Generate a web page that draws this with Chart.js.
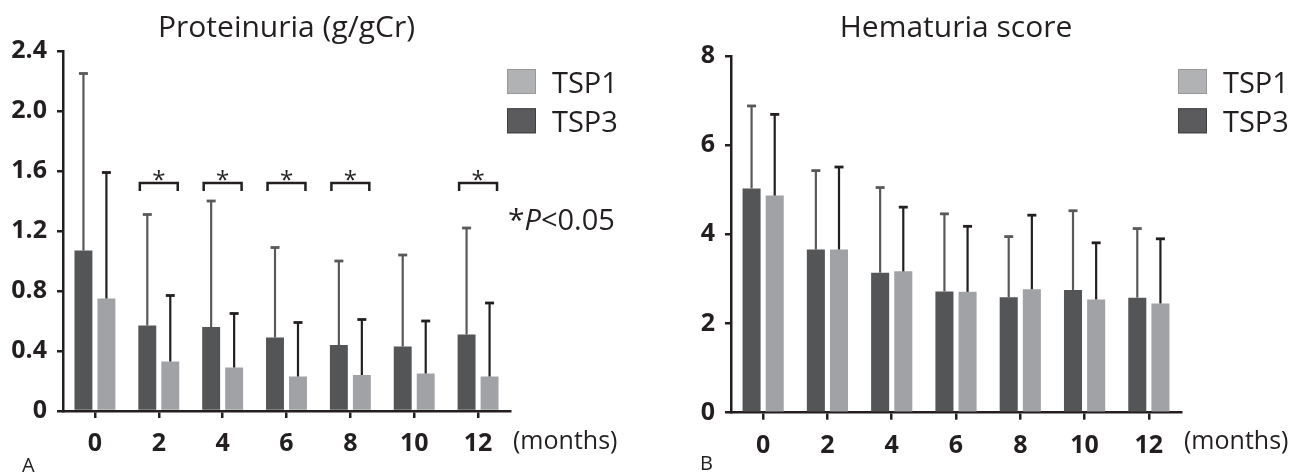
<!DOCTYPE html>
<html><head><meta charset="utf-8">
<script src="https://cdn.jsdelivr.net/npm/chart.js@4.4.1/dist/chart.umd.min.js"></script>
<style>
html,body{margin:0;padding:0;background:#fff;}
#wrap{position:relative;width:1306px;height:474px;overflow:hidden;}
.c{position:absolute;top:0;width:653px;height:474px;}
#ca{left:0;} #cb{left:653px;}
</style></head><body>
<div id="wrap"><div class="c" id="ca"><canvas id="a" width="653" height="474"></canvas></div><div class="c" id="cb"><canvas id="b" width="653" height="474"></canvas></div></div>
<script>
// ---- data ----
const months = ['0','2','4','6','8','10','12'];
const seriesNames = ['TSP3','TSP1'];
// Panel A: Proteinuria (g/gCr)
const protTSP3 = [1.07, 0.57, 0.56, 0.49, 0.44, 0.43, 0.51];
const protTSP3sd = [1.18, 0.74, 0.84, 0.60, 0.56, 0.61, 0.71];
const protTSP1 = [0.75, 0.33, 0.29, 0.23, 0.24, 0.25, 0.23];
const protTSP1sd = [0.84, 0.44, 0.36, 0.36, 0.37, 0.35, 0.49];
const protTicks = [0, 0.4, 0.8, 1.2, 1.6, 2.0, 2.4];
const protTickLabels = ['0','0.4','0.8','1.2','1.6','2.0','2.4'];
const sigMonths = ['2','4','6','8','12'];
const sigLevel = 1.52;
// Panel B: Hematuria score
const hemTSP3 = [5.03, 3.66, 3.14, 2.72, 2.59, 2.75, 2.58];
const hemTSP3sd = [1.85, 1.77, 1.91, 1.74, 1.36, 1.78, 1.55];
const hemTSP1 = [4.87, 3.66, 3.17, 2.71, 2.77, 2.54, 2.45];
const hemTSP1sd = [1.82, 1.85, 1.44, 1.47, 1.66, 1.27, 1.45];
const hemTicks = [0, 2, 4, 6, 8];
const hemTickLabels = ['0','2','4','6','8'];

// ---- style ----
const INK = '#231f20';
const DARK = '#545557', LIGHT = '#a1a2a5';
const FONT = "'Open Sans', 'DejaVu Sans', sans-serif";
Chart.defaults.font.family = FONT;
Chart.defaults.color = INK;

const decor = {
  id: 'decor',
  afterDatasetsDraw(chart, args, o) {
    const ctx = chart.ctx, y = chart.scales.y;
    chart.data.datasets.forEach((ds, di) => {
      const meta = chart.getDatasetMeta(di);
      meta.data.forEach((el, j) => {
        const top = y.getPixelForValue(ds.data[j] + ds.sd[j]);
        ctx.save();
        ctx.strokeStyle = ds.errColor;
        ctx.lineWidth = 2.2;
        ctx.beginPath(); ctx.moveTo(el.x, el.y); ctx.lineTo(el.x, top); ctx.stroke();
        ctx.lineWidth = 2.8;
        ctx.beginPath(); ctx.moveTo(el.x - 4.5, top); ctx.lineTo(el.x + 4.5, top); ctx.stroke();
        ctx.restore();
      });
    });
  },
  afterDraw(chart, args, o) {
    const ctx = chart.ctx, ca = chart.chartArea, y = chart.scales.y;
    ctx.save();
    ctx.fillStyle = INK;
    ctx.textBaseline = 'alphabetic';
    // title
    ctx.font = `30px ${FONT}`;
    ctx.textAlign = 'center';
    ctx.fillText(o.title, (ca.left + ca.right) / 2, 37);
    // legend (reversed order)
    ctx.textAlign = 'left';
    const items = chart.data.datasets.slice().reverse();
    items.forEach((ds, k) => {
      const sx = ca.right - 3, sy = 69 + k * 39.3;
      ctx.fillStyle = ds.legendFill;
      ctx.fillRect(sx, sy, 29, 25);
      ctx.strokeStyle = ds.legendBorder; ctx.lineWidth = 1;
      ctx.strokeRect(sx + 0.5, sy + 0.5, 28, 24);
      ctx.fillStyle = INK;
      ctx.font = `29px ${FONT}`;
      ctx.fillText(ds.label, sx + 45, sy + 23.5);
    });
    // unit label
    ctx.font = `25px ${FONT}`;
    ctx.fillText('(months)', ca.right + 3, 449);
    // panel label
    ctx.font = `20px ${FONT}`;
    ctx.fillText(o.panel, o.panelX, o.panelY);
    // significance
    if (o.sig) {
      const m0 = chart.getDatasetMeta(0), m1 = chart.getDatasetMeta(1);
      const yb = y.getPixelForValue(o.sig.level);
      o.sig.cats.forEach(c => {
        const i = months.indexOf(c);
        const d = m0.data[i], l = m1.data[i];
        const x1 = d.x - d.width / 2 + 1.5, x2 = l.x + l.width / 2 - 1.5;
        ctx.strokeStyle = INK; ctx.lineWidth = 2.5;
        ctx.beginPath();
        ctx.moveTo(x1, yb + 8); ctx.lineTo(x1, yb); ctx.lineTo(x2, yb); ctx.lineTo(x2, yb + 8);
        ctx.stroke();
        ctx.font = `24px ${FONT}`;
        ctx.textAlign = 'center';
        ctx.fillText('*', (x1 + x2) / 2, yb + 5);
      });
      // p-value note
      ctx.textAlign = 'left';
      let px = ca.right - 2;
      const parts = [['*', '', 30, 0], ['P', 'italic ', 29, 0], ['<0.05', '', 29, 0]];
      parts.forEach(([t, st, sz, dy]) => {
        ctx.font = `${st}${sz}px ${FONT}`;
        ctx.fillText(t, px, 230 + dy);
        px += ctx.measureText(t).width;
      });
    }
    ctx.restore();
  }
};

function makeChart(id, d3, s3, d1, s1, ticks, tickLabels, yMax, pad, extra) {
  return new Chart(document.getElementById(id), {
    type: 'bar',
    data: {
      labels: months,
      datasets: [
        { label: seriesNames[0], data: d3, sd: s3, backgroundColor: DARK, errColor: '#59595b',
          legendFill: '#5b5b5d', legendBorder: '#404042',
          categoryPercentage: 0.72, barPercentage: 0.78 },
        { label: seriesNames[1], data: d1, sd: s1, backgroundColor: LIGHT, errColor: INK,
          legendFill: '#b1b2b4', legendBorder: '#98989a',
          categoryPercentage: 0.72, barPercentage: 0.78 }
      ]
    },
    options: {
      responsive: false, animation: false, devicePixelRatio: 1,
      layout: { padding: pad },
      plugins: { legend: { display: false }, tooltip: { enabled: false }, title: { display: false }, decor: extra },
      scales: {
        x: {
          offset: true, clip: false,
          grid: { display: true, drawOnChartArea: false, drawTicks: true, tickLength: 7, offset: false,
                  color: INK, lineWidth: 2.5, tickWidth: 2.5, tickColor: INK },
          border: { display: true, color: INK, width: 2.5 },
          ticks: { color: INK, font: { size: 25, weight: 'bold' }, padding: 11, maxRotation: 0, autoSkip: false },
          afterFit: s => { s.height = 52; }
        },
        y: {
          min: 0, max: yMax, clip: false,
          afterBuildTicks: s => { s.ticks = ticks.map(v => ({ value: v })); },
          grid: { display: true, drawOnChartArea: false, drawTicks: true, tickLength: 6,
                  color: INK, lineWidth: 2.5, tickWidth: 2.5, tickColor: INK },
          border: { display: true, color: INK, width: 2.5 },
          ticks: { color: INK, font: { size: 25, weight: 'bold' }, padding: 10,
                   callback: (v, i) => tickLabels[i] },
          afterFit: s => { s.width = pad.yw; }
        }
      }
    },
    plugins: [decor]
  });
}

makeChart('a', protTSP3, protTSP3sd, protTSP1, protTSP1sd, protTicks, protTickLabels, 2.4,
  { left: 0, right: 143, top: 51, bottom: 11, yw: 63 },
  { title: 'Proteinuria (g/gCr)', panel: 'A', panelX: 22, panelY: 472, sig: { cats: sigMonths, level: sigLevel } });
makeChart('b', hemTSP3, hemTSP3sd, hemTSP1, hemTSP1sd, hemTicks, hemTickLabels, 8,
  { left: 0, right: 125, top: 56, bottom: 9.3, yw: 78 },
  { title: 'Hematuria score', panel: 'B', panelX: 47, panelY: 470, sig: null });
</script>
</body></html>
